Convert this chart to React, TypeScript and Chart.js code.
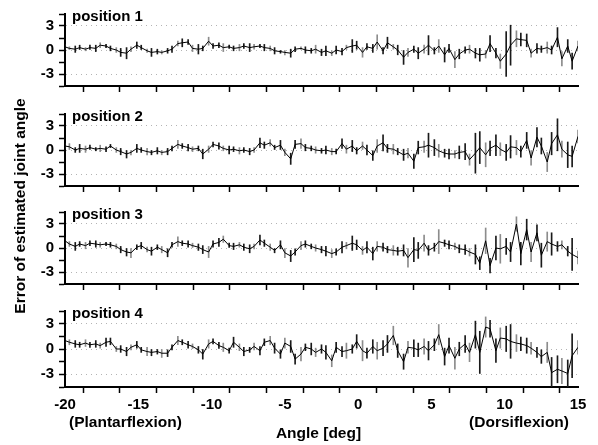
import { useEffect, useRef } from 'react';
import { Chart, registerables } from 'chart.js';

Chart.register(...registerables);

const FONT = '"Liberation Sans", Arial, sans-serif';

// Angle samples [deg]
const angles = [
  -20.0, -19.7, -19.3, -19.0, -18.6, -18.3, -17.9, -17.6, -17.2, -16.9,
  -16.5, -16.2, -15.8, -15.5, -15.1, -14.8, -14.4, -14.1, -13.7, -13.4,
  -13.0, -12.7, -12.3, -12.0, -11.6, -11.3, -10.9, -10.6, -10.2, -9.9,
  -9.5, -9.2, -8.8, -8.5, -8.1, -7.8, -7.4, -7.1, -6.7, -6.4,
  -6.0, -5.7, -5.3, -5.0, -4.6, -4.3, -3.9, -3.6, -3.2, -2.9,
  -2.5, -2.2, -1.8, -1.5, -1.1, -0.8, -0.4, -0.1, 0.3, 0.6,
  1.0, 1.3, 1.7, 2.0, 2.4, 2.7, 3.1, 3.4, 3.8, 4.1,
  4.5, 4.8, 5.2, 5.5, 5.9, 6.2, 6.6, 6.9, 7.3, 7.6,
  8.0, 8.3, 8.7, 9.0, 9.4, 9.7, 10.1, 10.4, 10.8, 11.1,
  11.5, 11.8, 12.2, 12.5, 12.9, 13.2, 13.6, 13.9, 14.3, 14.6,
  15.0,
];

// position 1
const pos1Mean = [
  0.4, 0.2, 0.1, 0.3, 0.1, 0.3, 0.2, 0.6, 0.5, 0.2,
  0.0, -0.3, -0.4, 0.1, 0.6, 0.3, -0.1, -0.3, -0.2, -0.3,
  -0.1, 0.1, 0.8, 0.9, 1.0, 0.2, 0.1, 0.2, 1.1, 0.5,
  0.6, 0.3, 0.4, 0.2, 0.3, 0.5, 0.3, 0.4, 0.5, 0.3,
  0.2, -0.1, -0.2, -0.3, -0.4, 0.1, 0.2, 0.0, -0.1, 0.1,
  -0.3, -0.1, -0.4, 0.0, -0.2, 0.3, 0.5, 0.6, -0.3, 0.4,
  0.2, 1.0, -0.1, 0.9, 0.4, 0.0, -0.9, -0.3, 0.1, -0.4,
  0.1, 0.6, -0.1, 0.5, -0.6, 0.2, -1.2, -0.5, 0.0, 0.1,
  -0.4, -0.6, -0.5, 0.8, -0.4, -1.4, -0.5, 0.6, 1.4, 1.3,
  1.2, -0.4, 0.2, 0.1, 0.3, 0.0, 1.6, -1.1, 0.5, -1.4,
  0.5,
];
const pos1Err = [
  0.3, 0.2, 0.4, 0.3, 0.2, 0.3, 0.4, 0.3, 0.2, 0.3,
  0.3, 0.5, 0.7, 0.3, 0.4, 0.3, 0.2, 0.5, 0.3, 0.2,
  0.3, 0.4, 0.3, 0.5, 0.3, 0.4, 0.6, 0.3, 0.5, 0.3,
  0.3, 0.5, 0.2, 0.3, 0.4, 0.3, 0.5, 0.3, 0.2, 0.4,
  0.3, 0.4, 0.2, 0.3, 0.5, 0.3, 0.2, 0.4, 0.3, 0.5,
  0.4, 0.6, 0.3, 0.5, 0.4, 0.3, 0.8, 0.5, 0.6, 0.4,
  0.5, 0.9, 0.4, 0.7, 0.3, 0.6, 0.9, 0.5, 0.4, 0.7,
  0.5, 1.2, 0.4, 0.8, 0.9, 0.5, 1.0, 0.6, 0.4, 0.5,
  0.6, 0.8, 0.5, 1.0, 0.6, 0.9, 2.8, 2.5, 1.0, 0.8,
  0.8, 0.5, 0.6, 0.4, 0.7, 0.5, 1.2, 0.9, 0.8, 1.0,
  0.6,
];

// position 2
const pos2Mean = [
  0.5, 0.4, 0.0, 0.2, 0.1, 0.3, 0.1, 0.2, 0.1, 0.5,
  0.0, -0.2, -0.5, -0.3, 0.2, 0.0, -0.2, -0.3, -0.1, -0.3,
  -0.2, 0.2, 0.7, 0.5, 0.3, 0.1, 0.2, -0.5, 0.1, 0.7,
  0.5, 0.2, 0.0, 0.1, -0.1, 0.0, -0.2, 0.0, 0.9, 0.6,
  0.9, 0.3, 0.6, -0.3, -1.1, 0.7, 0.8, 0.3, 0.2, 0.0,
  -0.1, 0.0, -0.2, -0.2, 0.8, 0.1, 0.5, -0.1, 0.5, 0.0,
  -0.7, 0.5, 0.9, 0.2, 0.1, -0.2, -0.6, -0.4, -1.4, 0.3,
  0.4, 0.6, 0.3, -0.1, -0.4, -0.5, -0.5, -0.3, -0.2, -1.2,
  -0.4, 0.3, -0.6, 0.2, 0.6, 0.1, -0.3, 0.4, 0.3, -0.2,
  1.2, -1.0, 1.6, 0.5, -1.5, 0.8, 1.9, 0.1, -0.6, -0.8,
  1.7,
];
const pos2Err = [
  0.3, 0.4, 0.3, 0.5, 0.4, 0.3, 0.2, 0.4, 0.3, 0.2,
  0.3, 0.4, 0.5, 0.3, 0.5, 0.3, 0.4, 0.3, 0.4, 0.3,
  0.4, 0.3, 0.5, 0.3, 0.4, 0.3, 0.3, 0.6, 0.4, 0.3,
  0.4, 0.3, 0.5, 0.3, 0.4, 0.3, 0.4, 0.3, 0.6, 0.4,
  0.4, 0.3, 0.6, 0.4, 0.7, 0.5, 0.6, 0.4, 0.3, 0.4,
  0.3, 0.5, 0.4, 0.3, 0.6, 0.5, 0.7, 0.4, 0.5, 0.6,
  0.6, 0.8, 1.0, 0.5, 0.6, 0.4, 0.7, 0.6, 0.9, 0.8,
  0.7, 1.5, 1.0, 0.8, 0.5, 0.6, 0.5, 0.8, 1.0, 0.7,
  2.5, 2.0, 1.5, 0.9, 1.3, 0.8, 1.0, 1.4, 0.9, 0.7,
  1.0, 0.9, 1.2, 1.0, 1.2, 1.4, 2.0, 1.0, 1.6, 1.3,
  0.8,
];

// position 3
const pos3Mean = [
  0.9, 0.5, 0.2, 0.5, 0.3, 0.6, 0.5, 0.4, 0.5, 0.4,
  0.2, -0.2, -0.5, -0.6, 0.1, 0.3, -0.2, -0.4, 0.1, -0.2,
  -0.6, 0.4, 0.8, 0.6, 0.5, 0.3, 0.1, -0.2, -0.5, 0.5,
  0.7, 1.1, 0.3, 0.2, 0.4, 0.1, -0.1, 0.2, 1.0, 0.6,
  0.1, -0.3, 0.4, -0.6, -1.0, -0.5, 0.3, 0.5, 0.2, 0.0,
  -0.2, -0.4, -0.7, -0.5, 0.1, 0.3, 0.6, 0.4, -0.3, 0.1,
  -0.7, 0.2, 0.1, -0.2, -0.3, -0.4, -0.3, -1.2, -0.2, -0.3,
  0.6, -0.3, 0.1, 0.8, 0.6, 0.4, 0.2, -0.1, -0.2, -0.5,
  -0.8, -1.9, 0.9, -2.2, 0.0, -0.1, 0.2, -0.5, 3.0, -0.7,
  2.3, -0.5, 1.9, -0.9, 0.8, 0.5, 0.2, 0.4, -0.4, -0.8,
  -1.2,
];
const pos3Err = [
  0.4, 0.3, 0.5, 0.3, 0.4, 0.3, 0.4, 0.3, 0.2, 0.3,
  0.3, 0.4, 0.5, 0.6, 0.3, 0.4, 0.3, 0.5, 0.3, 0.4,
  0.5, 0.3, 0.6, 0.3, 0.4, 0.3, 0.4, 0.5, 0.7, 0.4,
  0.5, 0.4, 0.3, 0.4, 0.3, 0.4, 0.5, 0.3, 0.6, 0.4,
  0.4, 0.3, 0.5, 0.6, 0.7, 0.4, 0.5, 0.4, 0.3, 0.4,
  0.4, 0.6, 0.5, 0.4, 0.7, 0.4, 0.9, 0.6, 0.5, 0.7,
  0.8, 0.6, 0.5, 0.4, 0.6, 0.5, 0.7, 1.2, 1.5, 1.0,
  1.0, 0.6, 0.5, 1.5, 0.4, 0.5, 0.4, 0.5, 0.6, 0.5,
  1.2, 0.8, 1.6, 0.9, 1.5, 1.8, 1.0, 1.2, 0.9, 1.4,
  1.3, 1.2, 1.0, 1.5, 1.2, 1.4, 0.6, 0.5, 0.6, 2.0,
  0.8,
];

// position 4
const pos4Mean = [
  1.0, 0.8, 0.6, 0.5, 0.7, 0.5, 0.6, 0.4, 0.8, 0.9,
  0.0, 0.0, -0.3, 0.2, 0.5, -0.1, -0.3, -0.4, -0.3, -0.5,
  -0.5, 0.2, 1.0, 0.8, 0.5, 0.3, -0.1, -0.6, 0.6, 0.9,
  0.4, 0.2, -0.2, 0.8, 0.2, -0.3, -0.1, 0.3, -0.2, 0.8,
  1.0, 0.1, -0.6, 0.7, 0.3, -1.2, -0.6, 0.2, 0.0, -0.4,
  0.0, -0.4, -1.4, 0.2, -0.3, -0.2, 0.0, 0.9, -0.2, -0.5,
  0.3, -0.2, 0.1, 0.6, 1.6, -0.2, -1.5, 0.2, 0.1, -0.1,
  0.3, -0.2, 0.5, 1.7, -0.9, 0.4, -1.1, 0.0, 0.6, -0.4,
  1.7, -0.4, 2.6, 2.4, -0.2, 1.3, 1.2, 0.9, 0.7, 0.6,
  0.4, 0.1, -0.4, -0.9, -0.4, -2.8, -2.4, -2.6, -2.9, -0.8,
  0.2,
];
const pos4Err = [
  0.5, 0.3, 0.4, 0.3, 0.4, 0.3, 0.4, 0.3, 0.5, 0.4,
  0.3, 0.4, 0.5, 0.3, 0.4, 0.3, 0.5, 0.4, 0.3, 0.5,
  0.4, 0.3, 0.5, 0.3, 0.4, 0.3, 0.4, 0.6, 0.5, 0.3,
  0.4, 0.5, 0.3, 0.6, 0.4, 0.5, 0.3, 0.4, 0.5, 0.4,
  0.5, 0.6, 0.5, 0.6, 0.7, 0.6, 0.8, 0.4, 0.7, 0.5,
  0.5, 0.8, 0.7, 0.6, 0.6, 0.9, 0.5, 0.8, 1.2, 0.6,
  0.8, 1.0, 0.9, 1.0, 1.1, 0.8, 0.9, 0.7, 1.0, 0.8,
  0.9, 1.1, 0.7, 1.2, 1.0, 0.9, 1.3, 0.8, 1.0, 1.1,
  1.6, 2.5, 1.2, 1.0, 1.4, 1.2, 1.5, 2.0, 1.0, 0.8,
  0.9, 0.7, 0.6, 0.8, 1.2, 1.8, 1.6, 1.5, 1.6, 2.6,
  0.8,
];

const panelNames = ['position 1', 'position 2', 'position 3', 'position 4'];
const panelMeans = [pos1Mean, pos2Mean, pos3Mean, pos4Mean];
const panelErrs = [pos1Err, pos2Err, pos3Err, pos4Err];
const yLabelTicks = [-3, 0, 3];
const xMin = -20;
const xMax = 15;
const yMin = -4.5;
const yMax = 4.5;
const xTitle = 'Angle [deg]';
const yTitle = 'Error of estimated joint angle';
const leftNote = '(Plantarflexion)';
const rightNote = '(Dorsiflexion)';

// layout of the four canvases: [top, height, chartTop, chartBottom]
const layouts = [
  [0, 100, 14, 88],
  [100, 100, 13, 88],
  [198, 100, 13, 88],
  [297, 148, 14, 90],
];

const isLabelTick = (v: number) => yLabelTicks.some((t) => Math.abs(t - v) < 1e-6);

const textPlugin = {
  id: 'panelText',
  afterDraw(chart: any, _args: any, opts: any) {
    const { ctx, chartArea } = chart;
    ctx.save();
    ctx.fillStyle = '#000';
    ctx.textBaseline = 'alphabetic';
    ctx.font = `bold 15px ${FONT}`;
    ctx.textAlign = 'left';
    ctx.fillText(opts.text, chartArea.left + 7, chartArea.top + 7);
    if (opts.bottom) {
      ctx.font = `bold 15.5px ${FONT}`;
      ctx.textAlign = 'left';
      ctx.fillText(leftNote, chartArea.left + 4, chartArea.bottom + 40);
      ctx.textAlign = 'right';
      ctx.fillText(rightNote, chartArea.right - 9, chartArea.bottom + 40);
      ctx.textAlign = 'center';
      ctx.fillText(xTitle, (chartArea.left + chartArea.right) / 2 - 3, chartArea.bottom + 51);
    }
    ctx.restore();
  },
};

function Panel({ index }: { index: number }) {
  const ref = useRef<HTMLCanvasElement>(null);
  const [top, height, chartTop, chartBottom] = layouts[index];
  const isBottom = index === 3;

  useEffect(() => {
    if (!ref.current) return;
    const mean = panelMeans[index];
    const err = panelErrs[index];
    const lineData = angles.map((x, i) => ({ x, y: mean[i] }));
    const barData = angles.map((x, i) => ({ x, y: [mean[i] - err[i], mean[i] + err[i]] }));

    const chart = new Chart(ref.current, {
      type: 'line',
      data: {
        datasets: [
          {
            type: 'line',
            data: lineData as any,
            borderColor: '#000',
            borderWidth: 1,
            pointRadius: 0,
            tension: 0,
            fill: false,
            order: 0,
          },
          {
            type: 'bar',
            data: barData as any,
            backgroundColor: (c: any) => (c.dataIndex % 3 === 1 ? '#8c8c8c' : '#1a1a1a'),
            borderWidth: 0,
            barThickness: 1,
            grouped: false,
            order: 1,
          } as any,
        ],
      },
      options: {
        responsive: false,
        animation: false,
        events: [],
        layout: { padding: { left: 0, right: 20, top: chartTop, bottom: 0 } },
        plugins: {
          legend: { display: false },
          tooltip: { enabled: false },
          panelText: { text: panelNames[index], bottom: isBottom },
        } as any,
        scales: {
          x: {
            type: 'linear',
            min: xMin,
            max: xMax,
            offset: false,
            afterFit: (s: any) => {
              s.height = height - chartBottom;
            },
            ticks: {
              display: isBottom,
              stepSize: 2.5,
              autoSkip: false,
              maxRotation: 0,
              color: '#000',
              padding: 3,
              font: { family: FONT, size: 15, weight: 'bold' },
              callback: (v: any) => (Math.abs(Number(v) % 5) < 1e-6 ? String(v) : ''),
            },
            grid: {
              drawOnChartArea: false,
              tickLength: 6,
              tickColor: '#000',
              tickWidth: 1.5,
              color: '#000',
            },
            border: { display: true, color: '#000', width: 2 },
          },
          y: {
            type: 'linear',
            min: yMin,
            max: yMax,
            afterFit: (s: any) => {
              s.width = 65;
            },
            ticks: {
              stepSize: 1.5,
              autoSkip: false,
              color: '#000',
              padding: 5,
              font: { family: FONT, size: 15, weight: 'bold' },
              callback: (v: any) => (isLabelTick(Number(v)) ? String(v) : ''),
            },
            grid: {
              drawOnChartArea: true,
              color: (c: any) => (c.tick && isLabelTick(c.tick.value) ? '#b4b4b4' : 'rgba(0,0,0,0)'),
              lineWidth: 1,
              tickColor: '#000',
              tickLength: 6,
              tickWidth: 1.5,
            },
            border: { display: true, color: '#000', width: 2, dash: [1, 4] },
          },
        },
      } as any,
      plugins: [textPlugin as any],
    });
    return () => chart.destroy();
  }, [index]);

  return (
    <canvas
      ref={ref}
      width={598}
      height={height}
      style={{ position: 'absolute', left: 0, top, width: 598, height }}
    />
  );
}

export default function App() {
  return (
    <div
      style={{
        position: 'fixed',
        left: 0,
        top: 0,
        width: 598,
        height: 445,
        background: '#fff',
        overflow: 'hidden',
      }}
    >
      {[0, 1, 2, 3].map((i) => (
        <Panel key={i} index={i} />
      ))}
      <div
        style={{
          position: 'absolute',
          left: 20 - 150,
          top: 206 - 9,
          width: 300,
          height: 18,
          lineHeight: '18px',
          textAlign: 'center',
          transform: 'rotate(-90deg)',
          transformOrigin: '50% 50%',
          font: `bold 15.5px ${FONT}`,
          color: '#000',
          whiteSpace: 'nowrap',
        }}
      >
        {yTitle}
      </div>
    </div>
  );
}
